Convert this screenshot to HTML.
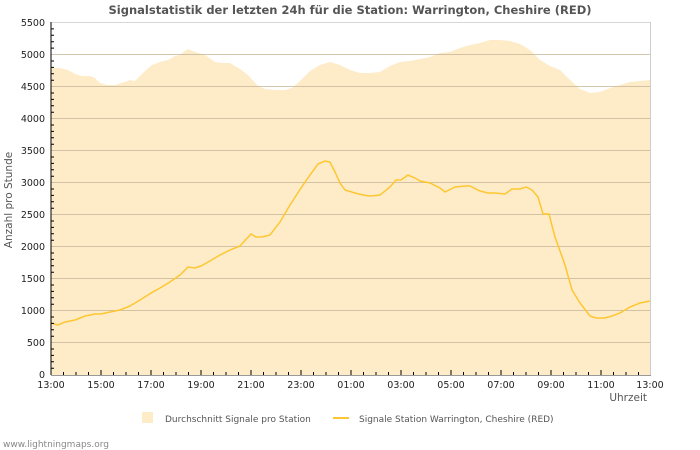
<!DOCTYPE html><html><head><style>body{margin:0;background:#fff}svg{display:block;font-family:"DejaVu Sans","Liberation Sans",sans-serif}</style></head><body>
<svg width="700" height="450" viewBox="0 0 700 450">
<rect width="700" height="450" fill="#fff"/>
<text x="350" y="14" text-anchor="middle" font-size="11.5" font-weight="bold" fill="#555">Signalstatistik der letzten 24h für die Station: Warrington, Cheshire (RED)</text>
<polygon fill="#feecc8" points="51,375 51,68 60,68 68,70 75,74 82,76 90,76 95,78 100,83 107,85 115,85 125,82 130,80 135,81 145,71 152,65 160,62 168,60 175,56 180,55 185,51 188,49 195,52 205,55 215,62 222,63 230,63 240,69 248,75 258,86 265,89 275,90 285,90 292,88 300,81 310,71 320,65 330,62 340,65 350,70 360,73 370,73 380,72 390,66 400,62 410,61 420,59 430,57 440,53 450,52 460,48 470,45 480,43 490,40 500,40 510,41 520,44 530,50 540,60 550,66 560,70 570,80 580,89 590,93 600,92 610,88 620,85 630,82 640,81 650,80 650,375"/>
<g stroke="#c8b89a" stroke-width="1" opacity="0.8">
<line x1="51" y1="22.5" x2="650" y2="22.5" stroke="#ccc"/>
<line x1="51" y1="54.5" x2="650" y2="54.5"/><line x1="51" y1="86.5" x2="650" y2="86.5"/><line x1="51" y1="118.5" x2="650" y2="118.5"/><line x1="51" y1="150.5" x2="650" y2="150.5"/><line x1="51" y1="182.5" x2="650" y2="182.5"/><line x1="51" y1="214.5" x2="650" y2="214.5"/><line x1="51" y1="246.5" x2="650" y2="246.5"/><line x1="51" y1="278.5" x2="650" y2="278.5"/><line x1="51" y1="310.5" x2="650" y2="310.5"/><line x1="51" y1="342.5" x2="650" y2="342.5"/>
</g>
<line x1="650.5" y1="22" x2="650.5" y2="375" stroke="#ccc"/>
<polyline fill="none" stroke="#fec631" stroke-width="1.5" points="51,323 58,325 65,322 75,320 85,316 95,314 101,314 110,312 120,310 130,306 140,300 151,293 160,288 170,282 180,275 188,267 195,268 201,266 210,261 220,255 230,250 240,246 251,234 256,237 262,237 270,235 280,222 290,205 301,188 310,175 318,164 325,161 330,162 335,172 340,183 345,190 355,193 363,195 370,196 380,195 390,187 396,180 401,180 408,175 415,178 420,181 430,183 440,188 445,192 455,187 465,186 470,186 480,191 488,193 495,193 505,194 512,189 520,189 526,187 532,190 538,197 543,214 549,214 555,237 565,265 572,290 580,303 590,316 596,318 605,318 612,316 620,313 630,307 640,303 650,301"/>
<path stroke="#000" stroke-width="1" fill="none" d="M51,28.9h3M51,35.3h3M51,41.7h3M51,48.1h3M51,61h3M51,67.4h3M51,73.8h3M51,80.2h3M51,93h3M51,99.4h3M51,105.8h3M51,112.2h3M51,125h3M51,131.4h3M51,137.8h3M51,144.2h3M51,157h3M51,163.4h3M51,169.8h3M51,176.2h3M51,189h3M51,195.4h3M51,201.8h3M51,208.2h3M51,221h3M51,227.4h3M51,233.8h3M51,240.2h3M51,253h3M51,259.4h3M51,265.8h3M51,272.2h3M51,285h3M51,291.4h3M51,297.8h3M51,304.2h3M51,317h3M51,323.4h3M51,329.8h3M51,336.2h3M51,349h3M51,355.4h3M51,361.8h3M51,368.2h3
M51,22v353M63.5,375v-3M76,375v-3M88.5,375v-3M101,375v-5M113.5,375v-3M126,375v-3M138.5,375v-3M151,375v-5M163.5,375v-3M176,375v-3M188.5,375v-3M201,375v-5M213.5,375v-3M226,375v-3M238.5,375v-3M251,375v-5M263.5,375v-3M276,375v-3M288.5,375v-3M301,375v-5M313.5,375v-3M326,375v-3M338.5,375v-3M351,375v-5M363.5,375v-3M376,375v-3M388.5,375v-3M401,375v-5M413.5,375v-3M426,375v-3M438.5,375v-3M451,375v-5M463.5,375v-3M476,375v-3M488.5,375v-3M501,375v-5M513.5,375v-3M526,375v-3M538.5,375v-3M551,375v-5M563.5,375v-3M576,375v-3M588.5,375v-3M601,375v-5M613.5,375v-3M626,375v-3M638.5,375v-3"/>
<line x1="51" y1="375.5" x2="651" y2="375.5" stroke="#999"/>
<g font-size="9.5" fill="#222" text-anchor="end">
<text x="45" y="26">5500</text><text x="45" y="58">5000</text><text x="45" y="90">4500</text><text x="45" y="122">4000</text><text x="45" y="154">3500</text><text x="45" y="186">3000</text><text x="45" y="218">2500</text><text x="45" y="250">2000</text><text x="45" y="282">1500</text><text x="45" y="314">1000</text><text x="45" y="346">500</text><text x="45" y="378">0</text>
</g>
<g font-size="9.5" fill="#222" text-anchor="middle">
<text x="51" y="388">13:00</text><text x="101" y="388">15:00</text><text x="151" y="388">17:00</text><text x="201" y="388">19:00</text><text x="251" y="388">21:00</text><text x="301" y="388">23:00</text><text x="351" y="388">01:00</text><text x="401" y="388">03:00</text><text x="451" y="388">05:00</text><text x="501" y="388">07:00</text><text x="551" y="388">09:00</text><text x="601" y="388">11:00</text><text x="650" y="388">13:00</text>
</g>
<text x="647" y="401" text-anchor="end" font-size="10.5" fill="#555">Uhrzeit</text>
<text transform="translate(12,200) rotate(-90)" text-anchor="middle" font-size="10.5" fill="#555">Anzahl pro Stunde</text>
<rect x="142" y="412" width="11" height="11" fill="#feecc8"/>
<text x="165" y="422" font-size="9" fill="#555">Durchschnitt Signale pro Station</text>
<line x1="333" y1="418" x2="349" y2="418" stroke="#fec631" stroke-width="2"/>
<text x="359" y="422" font-size="9" fill="#555">Signale Station Warrington, Cheshire (RED)</text>
<text x="3" y="447" font-size="9" fill="#888">www.lightningmaps.org</text>
</svg></body></html>
